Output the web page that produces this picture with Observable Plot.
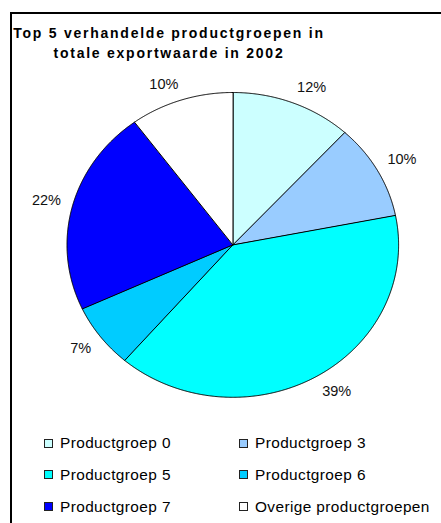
<!DOCTYPE html>
<html><head><meta charset="utf-8">
<script src="https://cdn.jsdelivr.net/npm/d3@7"></script>
<script src="https://cdn.jsdelivr.net/npm/@observablehq/plot@0.6"></script>
<style>
body{margin:0;background:#fff;font-family:"Liberation Sans",Arial,sans-serif;}
#wrap{position:relative;width:441px;height:523px;overflow:hidden;background:#fff;}
#border{position:absolute;left:10px;top:12px;right:-5px;bottom:-5px;border-left:2px solid #000;border-top:2px solid #000;}
#chart{position:absolute;left:0;top:0;}
#title{position:absolute;left:0;width:338px;top:24.4px;text-align:center;font-weight:bold;font-size:14px;line-height:19.6px;letter-spacing:1.75px;color:#000;white-space:nowrap;}
#legend{position:absolute;left:0;top:0;width:441px;height:523px;pointer-events:none;}
.item{position:absolute;display:flex;align-items:center;font-size:15.4px;letter-spacing:0.4px;color:#000;white-space:nowrap;height:20px;}
.sw{width:7px;height:7px;border:1px solid #222;margin-right:7px;flex:none;}
</style></head>
<body><div id="wrap"><div id="border"></div><div id="chart"></div><div id="title"></div><div id="legend"></div></div>
<script>
const categories = ["Productgroep 0","Productgroep 3","Productgroep 5","Productgroep 6","Productgroep 7","Overige productgroepen"];
const shares = [11.8, 10.1, 39.4, 6.8, 21.8, 10.1];
const colors = ["#CCFFFF","#99CCFF","#00FFFF","#00CCFF","#0000FF","#FFFFFF"];
const titleLines = ["Top 5 verhandelde productgroepen in","totale exportwaarde in 2002"];

// pie geometry (pixel layout)
const cx = 232.3, cy = 244.4, rx = 165.8, ry = 152.4;
const labelFont = 14.5;

const arcs = d3.pie().sort(null).value(d => d)(shares).map((a, i) => ({...a, name: categories[i]}));
const pts = [];
for (const a of arcs) {
  pts.push({name: a.name, x: 0, y: 0});
  const n = Math.max(2, Math.ceil((a.endAngle - a.startAngle) / 0.005));
  for (let k = 0; k <= n; k++) {
    const t = a.startAngle + (a.endAngle - a.startAngle) * k / n;
    pts.push({name: a.name, x: Math.sin(t), y: Math.cos(t)});
  }
}
// label placement: nearest corner of the text box sits just outside the ellipse
const ctx = document.createElement("canvas").getContext("2d");
ctx.font = `${labelFont}px 'Liberation Sans', Arial, sans-serif`;
const clamp = v => Math.max(-1, Math.min(1, v));
const labelR = 1.07;
const labels = arcs.map(a => {
  const m = (a.startAngle + a.endAngle) / 2;
  const text = Math.round(a.value) + "%";
  const w = ctx.measureText(text).width, h = labelFont * 0.72;
  const s = Math.sin(m), c = Math.cos(m);
  return {
    x: labelR * s + clamp(3 * s) * (w / 2) / rx,
    y: labelR * c + clamp(3 * c) * (h / 2) / ry,
    text
  };
});

const chart = Plot.plot({
  width: 441, height: 425, margin: 0,
  style: {fontFamily: "'Liberation Sans', Arial, sans-serif", background: "transparent", overflow: "visible"},
  x: {domain: [-1, 1], range: [cx - rx, cx + rx], axis: null},
  y: {domain: [-1, 1], range: [cy + ry, cy - ry], axis: null},
  color: {type: "ordinal", domain: categories, range: colors},
  marks: [
    Plot.line(pts, {x: "x", y: "y", z: "name", fill: "name", stroke: "#000", strokeWidth: 1, curve: "linear-closed", strokeLinejoin: "round"}),
    Plot.text(labels, {x: "x", y: "y", text: "text", fontSize: labelFont, fill: "#111"})
  ]
});
document.getElementById("chart").append(chart);

document.getElementById("title").innerHTML = titleLines.join("<br>");

const leg = document.getElementById("legend");
const colX = [44, 239];
const rowY = [443, 474.7, 506.5];
categories.forEach((c, i) => {
  const el = document.createElement("div");
  el.className = "item";
  el.style.left = colX[i % 2] + "px";
  el.style.top = (rowY[Math.floor(i / 2)] - 10) + "px";
  const sw = document.createElement("span");
  sw.className = "sw";
  sw.style.background = colors[i];
  el.append(sw, document.createTextNode(c));
  leg.append(el);
});
</script></body></html>
